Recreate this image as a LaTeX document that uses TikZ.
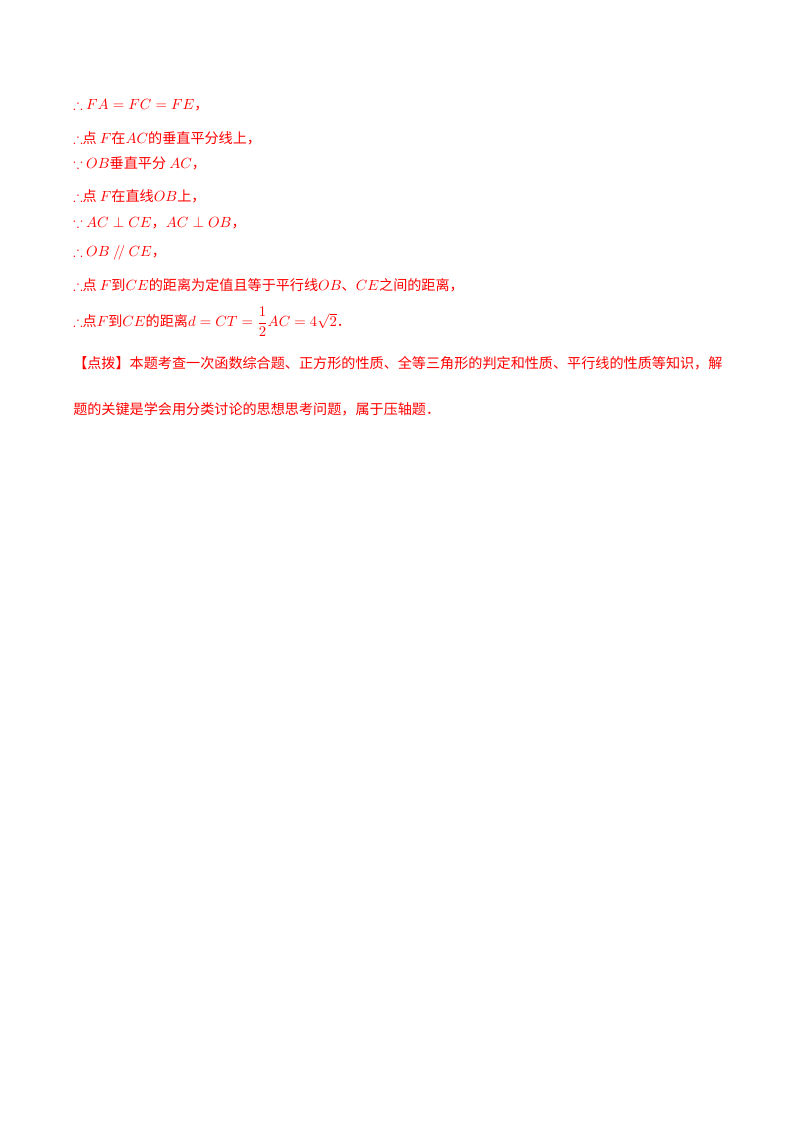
\documentclass[tikz,border=0pt]{standalone}
\usepackage{amsmath,amssymb}
\usepackage{fontspec}
\setmainfont{Liberation Serif}
\newfontfamily\cjk{Noto Sans CJK SC}
\definecolor{rd}{RGB}{255,0,0}
\begin{document}
\begin{tikzpicture}[x=0.744pt,y=-0.744pt,
  ln/.style={anchor=west,inner sep=0pt,text=rd,font=\fontsize{10.5pt}{12pt}\selectfont}]
\useasboundingbox (0,0) rectangle (800,1132);
\node[ln] (l1) at (73,105) {$\therefore$ $FA=FC=FE$\cjk ，};
\node[ln] (l2) at (73,138) {$\therefore$\cjk 点 \rmfamily$F$\cjk 在\rmfamily$AC$\cjk 的垂直平分线上，};
\node[ln] (l3) at (73,163) {$\because$ $OB$\cjk 垂直平分 \rmfamily$AC$\cjk ，};
\node[ln] (l4) at (73,196) {$\therefore$\cjk 点 \rmfamily$F$\cjk 在直线\rmfamily$OB$\cjk 上，};
\node[ln] (l5) at (73,223) {$\because$ $AC\perp CE$\cjk ，\rmfamily$AC\perp OB$\cjk ，};
\node[ln] (l6) at (73,253) {$\therefore$ $OB\mathbin{/\!/}CE$\cjk ，};
\node[ln] (l7) at (73,285) {$\therefore$\cjk 点 \rmfamily$F$\cjk 到\rmfamily$CE$\cjk 的距离为定值且等于平行线\rmfamily$OB$\cjk 、\rmfamily$CE$\cjk 之间的距离，};
\node[ln] (l8) at (73,322) {$\therefore$\cjk 点\rmfamily$F$\cjk 到\rmfamily$CE$\cjk 的距离\rmfamily$d=CT=\dfrac{1}{2}AC=4\sqrt{2}$\cjk ．};
\node[ln,font=\fontsize{10.5pt}{12pt}\selectfont\cjk] (l9) at (73,363) {【点拨】本题考查一次函数综合题、正方形的性质、全等三角形的判定和性质、平行线的性质等知识，解};
\node[ln,font=\fontsize{10.5pt}{12pt}\selectfont\cjk] (l10) at (73,409) {题的关键是学会用分类讨论的思想思考问题，属于压轴题．};
\end{tikzpicture}
\end{document}
